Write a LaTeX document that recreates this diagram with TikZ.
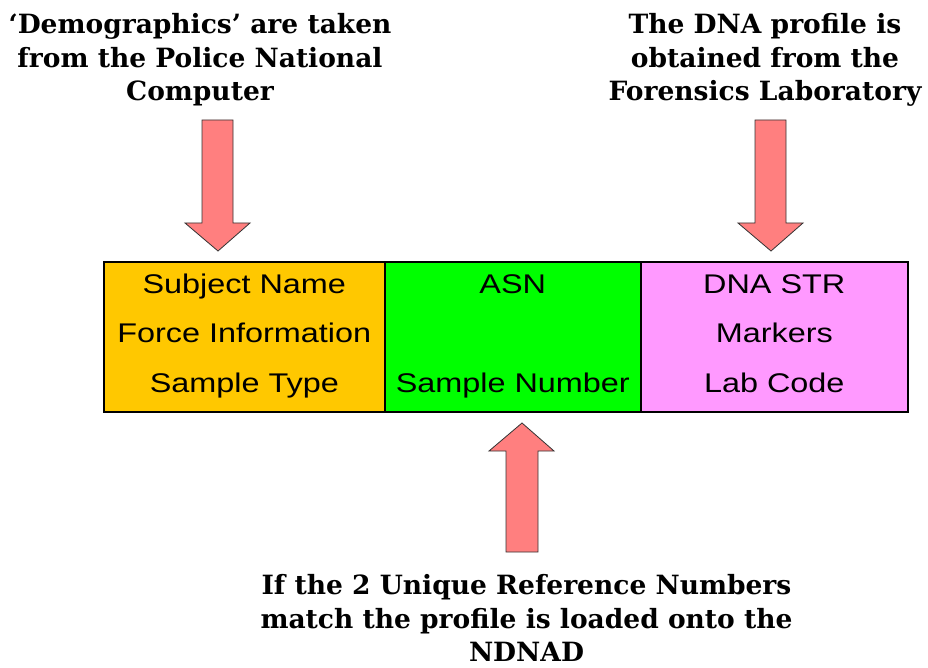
\documentclass[tikz,border=0pt]{standalone}
\usepackage{fontspec}
\setmainfont{Liberation Sans}
\newfontfamily\cellfont[FakeStretch=1.2]{Liberation Sans}
\newfontfamily\titlefont{DejaVu Serif}
\newcommand\cellstrut{\rule[-10pt]{0pt}{32pt}}
\definecolor{cellorange}{HTML}{FFC800}
\definecolor{cellgreen}{HTML}{00FF00}
\definecolor{cellpink}{HTML}{FF99FF}
\definecolor{arrowfill}{HTML}{FF7F7F}
\begin{document}
\begin{tikzpicture}[x=1pt,y=-1pt,
  cellbox/.style={draw=black, line width=1.6pt, minimum height=150pt, inner sep=0pt, align=center,
    font=\cellfont\fontsize{27}{49.5}\selectfont, anchor=north west},
  caption/.style={align=center, font=\titlefont\bfseries\fontsize{26.5}{33.5}\selectfont, inner sep=0pt},
  blockarrow/.style={draw=black!80, line width=0.8pt, fill=arrowfill, line join=miter}]
\useasboundingbox (0,0) rectangle (928,668);
\fill[white] (0,0) rectangle (928,668);
% cells
\node[cellbox, fill=cellorange, minimum width=281pt] (c1) at (103,261) {\cellstrut Subject Name\\\cellstrut Force Information\\\cellstrut Sample Type};
\node[cellbox, fill=cellgreen, minimum width=256pt] (c2) at (384,261) {\cellstrut ASN\\\cellstrut\\\cellstrut Sample Number};
\node[cellbox, fill=cellpink, minimum width=267pt] (c3) at (640,261) {\cellstrut DNA STR\\\cellstrut Markers\\\cellstrut Lab Code};
% captions
\node[caption] (t1) at (200,60) {‘Demographics’ are taken\\from the Police National\\Computer};
\node[caption] (t2) at (765,60) {The DNA profile is\\obtained from the\\Forensics Laboratory};
\node[caption] (t3) at (526.5,618) {If the 2 Unique Reference Numbers\\match the profile is loaded onto the\\NDNAD};
% block arrows
\draw[blockarrow] (202,120) -- (233,120) -- (233,223) -- (250,223) -- (218,251) -- (185,223) -- (202,223) -- cycle;
\draw[blockarrow] (755,120) -- (786,120) -- (786,223) -- (803,223) -- (771,251) -- (738,223) -- (755,223) -- cycle;
\draw[blockarrow] (506,552) -- (538,552) -- (538,451) -- (554,451) -- (522,423) -- (489,451) -- (506,451) -- cycle;
\end{tikzpicture}
\end{document}
